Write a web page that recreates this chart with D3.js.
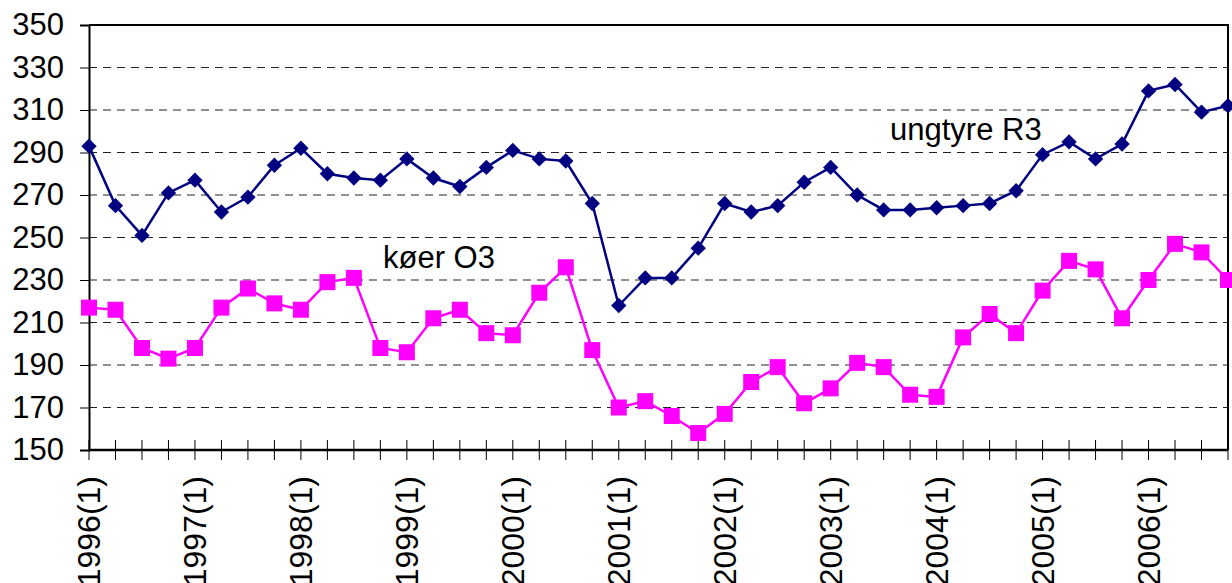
<!DOCTYPE html>
<html>
<head>
<meta charset="utf-8">
<script src="https://cdn.jsdelivr.net/npm/d3@7"></script>
<style>
  body { margin: 0; background: #fff; }
  svg { display: block; font-family: "Liberation Sans", Arial, sans-serif; }
</style>
</head>
<body>
<div id="chart"></div>
<script>
// quarters 1996(1) .. 2006(4)
let years = d3.range(1996, 2007);
let quarters = [];
years.forEach(y => [1, 2, 3, 4].forEach(q => quarters.push(y + '(' + q + ')')));

let ungtyre = [293, 265, 251, 271, 277, 262, 269, 284, 292, 280, 278, 277,
               287, 278, 274, 283, 291, 287, 286, 266, 218, 231, 231, 245,
               266, 262, 265, 276, 283, 270, 263, 263, 264, 265, 266, 272,
               289, 295, 287, 294, 319, 322, 309, 312];

let koer = [217, 216, 198, 193, 198, 217, 226, 219, 216, 229, 231, 198,
            196, 212, 216, 205, 204, 224, 236, 197, 170, 173, 166, 158,
            167, 182, 189, 172, 179, 191, 189, 176, 175, 203, 214, 205,
            225, 239, 235, 212, 230, 247, 243, 230];

let yTicks = d3.range(150, 351, 20);

let width = 1232, height = 583;
let margin = {left: 89, right: 4, top: 25, bottom: 133};

let svg = d3.select('#chart').append('svg')
    .attr('width', width)
    .attr('height', height);

let x = d3.scalePoint().domain(quarters).range([margin.left, width - margin.right]);
let y = d3.scaleLinear().domain([150, 350]).range([height - margin.bottom, margin.top]);

// grid lines
svg.append('g')
    .selectAll('line')
    .data(yTicks.slice(1, -1))
    .join('line')
    .attr('x1', margin.left).attr('x2', width - margin.right)
    .attr('y1', d => y(d)).attr('y2', d => y(d))
    .attr('stroke', '#222')
    .attr('stroke-width', 1)
    .attr('stroke-dasharray', '8,6');

// frame top + right
svg.append('path')
    .attr('d', 'M' + margin.left + ',' + y(350) + 'H' + (width - margin.right) + 'V' + y(150))
    .attr('fill', 'none')
    .attr('stroke', '#000')
    .attr('stroke-width', 2);

// y axis
let yAxis = svg.append('g')
    .attr('transform', 'translate(' + margin.left + ',0)')
    .call(d3.axisLeft(y).tickValues(yTicks).tickSize(9).tickPadding(16));
yAxis.select('.domain').attr('stroke-width', 2);
yAxis.selectAll('.tick line').attr('stroke-width', 1);
yAxis.selectAll('text')
    .attr('font-size', 31)
    .attr('fill', '#000')
    .attr('font-family', '"Liberation Sans", Arial, sans-serif');

// x axis, ticks cross the axis
let xg = svg.append('g').attr('transform', 'translate(0,' + y(150) + ')');
xg.append('line')
    .attr('x1', margin.left).attr('x2', width - margin.right)
    .attr('stroke', '#000').attr('stroke-width', 2.5);
xg.selectAll('.qtick')
    .data(quarters)
    .join('line')
    .attr('class', 'qtick')
    .attr('x1', d => x(d)).attr('x2', d => x(d))
    .attr('y1', -10).attr('y2', 10)
    .attr('stroke', '#000').attr('stroke-width', 1);
xg.selectAll('text')
    .data(quarters.filter(d => d.endsWith('(1)')))
    .join('text')
    .attr('transform', d => 'translate(' + (x(d) + 11) + ',26) rotate(-90)')
    .attr('text-anchor', 'end')
    .attr('font-size', 32)
    .text(d => d);

// lines
let line = d3.line()
    .x((d, i) => x(quarters[i]))
    .y(d => y(d));

svg.append('path')
    .datum(koer)
    .attr('d', line)
    .attr('fill', 'none')
    .attr('stroke', '#ff00ff')
    .attr('stroke-width', 2.5);

svg.append('path')
    .datum(ungtyre)
    .attr('d', line)
    .attr('fill', 'none')
    .attr('stroke', '#000080')
    .attr('stroke-width', 2.5);

// markers
svg.append('g')
    .selectAll('rect')
    .data(koer)
    .join('rect')
    .attr('x', (d, i) => x(quarters[i]) - 8)
    .attr('y', d => y(d) - 8)
    .attr('width', 16).attr('height', 16)
    .attr('fill', '#ff00ff');

let diamond = d3.symbol().type(d3.symbolDiamond2).size(150);
svg.append('g')
    .selectAll('path')
    .data(ungtyre)
    .join('path')
    .attr('transform', (d, i) => 'translate(' + x(quarters[i]) + ',' + y(d) + ')')
    .attr('d', diamond)
    .attr('fill', '#000080');

// series labels
svg.append('text')
    .attr('x', 890).attr('y', 140)
    .attr('font-size', 31)
    .text('ungtyre R3');

svg.append('text')
    .attr('x', 383).attr('y', 268)
    .attr('font-size', 31)
    .text('køer O3');
</script>
</body>
</html>
